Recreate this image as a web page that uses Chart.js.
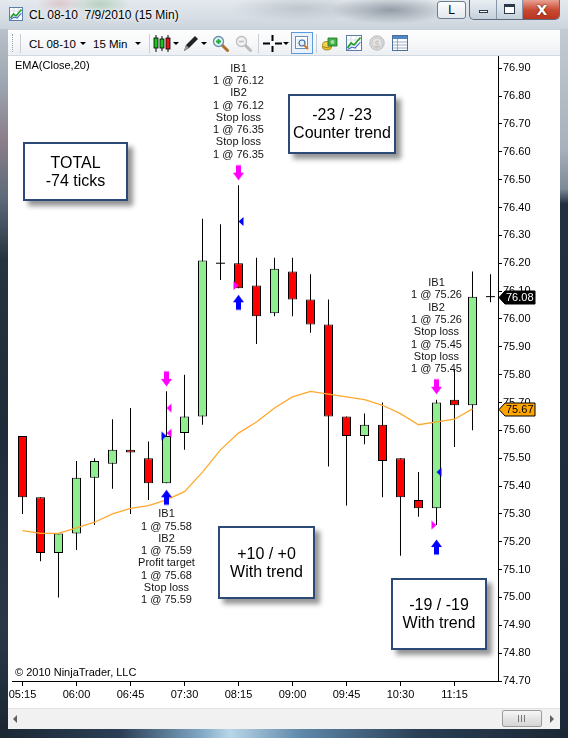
<!DOCTYPE html>
<html>
<head>
<meta charset="utf-8">
<title>CL 08-10 7/9/2010 (15 Min)</title>
<script src="https://cdn.jsdelivr.net/npm/chart.js@4.4.1/dist/chart.umd.min.js"></script>
<style>
*{box-sizing:border-box;}
html,body{margin:0;padding:0;}
body{width:568px;height:738px;overflow:hidden;position:relative;background:#1d2a38;font-family:'Liberation Sans',Arial,sans-serif;color:#000;}
.a{position:absolute;}
#title{left:0;top:0;width:568px;height:29px;background:
 radial-gradient(ellipse 30px 12px at 100px 4px, rgba(110,170,110,.35), transparent),
 radial-gradient(ellipse 24px 10px at 60px 3px, rgba(200,110,110,.25), transparent),
 radial-gradient(ellipse 70px 14px at 300px 8px, rgba(120,130,140,.30), transparent),
 radial-gradient(ellipse 60px 14px at 390px 10px, rgba(60,70,85,.45), transparent),
 linear-gradient(180deg,#e4e9ee 0%,#d6dde4 60%,#cbd3dc 100%);}
#ttext{left:29px;top:7px;font-size:12px;line-height:16px;white-space:pre;text-shadow:0 0 6px #fff,0 0 3px #fff;}
#leftb{left:0;top:29px;width:8px;height:700px;background:linear-gradient(180deg,#b9c1ca 0px,#9aa3ad 60px,#8c7f8a 110px,#5d6977 170px,#27333f 230px,#1f2b38 400px,#2a3846 600px,#1c2733 700px);}
#rightb{left:560px;top:29px;width:8px;height:700px;background:linear-gradient(180deg,#c3cad2 0px,#a7b1bb 120px,#7d8996 160px,#22303e 175px,#1d2a38 700px);}
#bottomb{left:0;top:729px;width:568px;height:9px;background:linear-gradient(90deg,#1b2733 0,#2b3f55 120px,#7fa6c4 200px,#b9d6e8 230px,#5f88aa 300px,#2a3e54 420px,#1b2733 568px);}
#toolbar{left:8px;top:29px;width:552px;height:27px;background:linear-gradient(180deg,#fefefe 0%,#f7f8fa 50%,#eceff3 100%);border-bottom:1px solid #d3d9e0;border-top:1px solid #c7cfd8;}
.tt{font-size:11.5px;line-height:14px;top:7px;white-space:nowrap;}
.sep{top:4px;width:1px;height:19px;background:#c9ced5;}
.dd{top:12px;width:0;height:0;border-left:3px solid transparent;border-right:3px solid transparent;border-top:3px solid #000;}
#chartWrap{left:8px;top:56px;width:552px;height:652px;background:#fff;}
#scroll{left:8px;top:708px;width:552px;height:21px;background:#f1f1f1;border-top:1px solid #e2e2e2;}
.box{position:absolute;background:#fff;border:2px solid #2c4a78;box-shadow:5px 5px 5px rgba(0,0,0,.42);display:flex;flex-direction:column;align-items:center;justify-content:center;font-size:16px;line-height:18px;text-align:center;white-space:nowrap;}
.lbl{position:absolute;font-size:11px;line-height:13px;white-space:nowrap;color:#000;}
</style>
</head>
<body>
<div class="a" id="title">
  <svg class="a" style="left:9px;top:7px" width="14" height="14" viewBox="0 0 14 14">
    <rect x="0.5" y="0.5" width="13" height="13" fill="#fff" stroke="#5b7fa8"/>
    <path d="M1 4h12M1 8h12M5 1v12M9 1v12" stroke="#cfd9e6" stroke-width="0.8"/>
    <polyline points="1.5,11 4.5,7 7,9 12.5,2.5" fill="none" stroke="#1e9e2a" stroke-width="1.6"/>
    <polyline points="1.5,12.5 5,10 8,11 12.5,6" fill="none" stroke="#3b62d6" stroke-width="1.1"/>
  </svg>
  <div class="a" id="ttext">CL 08-10  7/9/2010 (15 Min)</div>
  <div class="a" style="left:437px;top:1px;width:29px;height:18px;border:1px solid #6d7d8f;border-radius:3px;background:linear-gradient(#fcfdfe,#e3e8ee);font-size:12px;line-height:16px;text-align:center;">L</div>
  <div class="a" style="left:469px;top:0px;width:91px;height:20px;border:1px solid #5d6d80;border-top:none;border-radius:0 0 5px 5px;overflow:hidden;background:linear-gradient(#e9eef3,#c5d0db);">
    <div class="a" style="left:26px;top:0;width:1px;height:20px;background:#8596a8"></div>
    <div class="a" style="left:52px;top:0;width:1px;height:20px;background:#8596a8"></div>
    <div class="a" style="left:9px;top:10px;width:9px;height:3px;border:1px solid #2b3a4a;background:#fff"></div>
    <div class="a" style="left:34px;top:4px;width:11px;height:10px;border:1px solid #2b3a4a;background:#fff;box-shadow:inset 0 2px 0 #2b3a4a"></div>
    <div class="a" style="left:53px;top:0;width:38px;height:20px;background:linear-gradient(#e9a192,#c94a33 50%,#b8321c);"></div>
    <div class="a" style="left:53px;top:1px;width:38px;height:18px;color:#fff;font:bold 14px 'DejaVu Sans',sans-serif;text-align:center;line-height:18px;text-shadow:0 0 2px #400;">X</div>
  </div>
</div>
<div class="a" id="leftb"></div>
<div class="a" id="rightb"></div>
<div class="a" id="bottomb"></div>

<div class="a" id="toolbar">
  <div class="a" style="left:4px;top:4px;width:1px;height:18px;border-left:1px dotted #9aa2ad"></div>
  <div class="a sep" style="left:12px"></div>
  <div class="a tt" style="left:21px">CL 08-10</div>
  <div class="a dd" style="left:72px"></div>
  <div class="a tt" style="left:85px">15 Min</div>
  <div class="a dd" style="left:127px"></div>
  <div class="a sep" style="left:141px"></div>
  <svg class="a" style="left:145px;top:4px" width="18" height="19" viewBox="0 0 18 19">
    <path d="M3 1v17M9 2v15M15 1v17" stroke="#000" stroke-width="1"/>
    <rect x="1" y="4" width="4" height="10" fill="#19c41f" stroke="#000" stroke-width="0.8"/>
    <rect x="7" y="5" width="4" height="9" fill="#19c41f" stroke="#000" stroke-width="0.8"/>
    <rect x="13" y="4" width="4" height="11" fill="#e0161b" stroke="#000" stroke-width="0.8"/>
  </svg>
  <div class="a dd" style="left:165px"></div>
  <svg class="a" style="left:173px;top:4px" width="18" height="19" viewBox="0 0 18 19">
    <path d="M3 17 L5 11 L14 2 L17 5 L8 14 Z" fill="#222"/>
    <path d="M3 17 L5 11 L8 14 Z" fill="#999"/>
  </svg>
  <div class="a dd" style="left:193px"></div>
  <svg class="a" style="left:204px;top:5px" width="17" height="17" viewBox="0 0 17 17">
    <path d="M10 10 L15.5 15.5" stroke="#b0702a" stroke-width="3" stroke-linecap="round"/>
    <circle cx="6.5" cy="6.5" r="5" fill="#e2f1fb" stroke="#6a8eaa" stroke-width="1.3"/>
    <path d="M4 6.5h5M6.5 4v5" stroke="#1ea82c" stroke-width="1.8"/>
  </svg>
  <svg class="a" style="left:227px;top:5px" width="17" height="17" viewBox="0 0 17 17">
    <path d="M10 10 L15.5 15.5" stroke="#b9b9b9" stroke-width="3" stroke-linecap="round"/>
    <circle cx="6.5" cy="6.5" r="5" fill="#f3f3f3" stroke="#bdbdbd" stroke-width="1.3"/>
    <path d="M4 6.5h5" stroke="#c4c4c4" stroke-width="1.8"/>
  </svg>
  <div class="a sep" style="left:250px"></div>
  <svg class="a" style="left:255px;top:5px" width="19" height="17" viewBox="0 0 19 17">
    <path d="M0 8.5h7M12 8.5h7M9.5 0v6M9.5 11v6" stroke="#000" stroke-width="2"/>
  </svg>
  <div class="a dd" style="left:275px"></div>
  <div class="a" style="left:283px;top:2px;width:22px;height:22px;border:1px solid #5a9be0;background:#eaf3fd;">
    <svg class="a" style="left:2px;top:2px" width="16" height="16" viewBox="0 0 16 16">
      <rect x="1.5" y="1.5" width="12" height="12" fill="#fff" stroke="#6c8fb4"/>
      <path d="M3 5h9M3 8h9M3 11h9" stroke="#c9d6e5"/>
      <circle cx="8" cy="8" r="3" fill="#dff0ff" stroke="#3f6f9f" stroke-width="1.2"/>
      <path d="M10 10l4 4" stroke="#c77d2a" stroke-width="2"/>
    </svg>
  </div>
  <div class="a sep" style="left:308px"></div>
  <svg class="a" style="left:314px;top:5px" width="16" height="17" viewBox="0 0 16 17">
    <ellipse cx="5" cy="12" rx="4.5" ry="3" fill="#e7c02b" stroke="#9c7a10" stroke-width="0.8"/>
    <ellipse cx="5" cy="9.5" rx="4.5" ry="3" fill="#f3d34a" stroke="#9c7a10" stroke-width="0.8"/>
    <path d="M6 3 h9 v8 h-9 z" fill="#44b04a" stroke="#1d6e25" stroke-width="0.8"/>
    <circle cx="10.5" cy="7" r="2" fill="#a6e0a0"/>
  </svg>
  <svg class="a" style="left:338px;top:5px" width="16" height="16" viewBox="0 0 16 16">
    <rect x="0.5" y="0.5" width="15" height="15" fill="#fff" stroke="#5b7fa8"/>
    <path d="M1 5h14M1 10h14M5 1v14M10 1v14" stroke="#cfd9e6" stroke-width="0.8"/>
    <polyline points="1.5,13 5,8 8,10 14.5,2.5" fill="none" stroke="#1e9e2a" stroke-width="1.7"/>
    <polyline points="1.5,14.5 6,12 9,13 14.5,7" fill="none" stroke="#3b62d6" stroke-width="1.1"/>
  </svg>
  <svg class="a" style="left:361px;top:5px" width="16" height="16" viewBox="0 0 16 16">
    <circle cx="8" cy="8" r="7.2" fill="#d9d9d9" stroke="#bdbdbd"/>
    <circle cx="8" cy="8" r="5" fill="#e6e6e6" stroke="#c8c8c8"/>
    <text x="8" y="11.5" font-size="9" text-anchor="middle" fill="#bdbdbd" font-family="Liberation Sans">$</text>
  </svg>
  <svg class="a" style="left:384px;top:5px" width="16" height="16" viewBox="0 0 16 16">
    <rect x="0.5" y="0.5" width="15" height="15" fill="#fff" stroke="#4d6f9a"/>
    <rect x="1" y="1" width="14" height="3" fill="#4f86c6"/>
    <path d="M1 7h14M1 10h14M1 13h14M5.5 4v11" stroke="#7d97b8" stroke-width="0.8"/>
  </svg>
</div>

<div class="a" id="chartWrap"><canvas id="c"></canvas></div>

<div class="lbl" style="left:15px;top:59px;">EMA(Close,20)</div>
<div class="lbl" style="left:15px;top:666px;">© 2010 NinjaTrader, LLC</div>

<div class="box" style="left:23px;top:142px;width:105px;height:59px;"><div>TOTAL</div><div>-74 ticks</div></div>
<div class="box" style="left:288px;top:94px;width:108px;height:60px;"><div>-23 / -23</div><div>Counter trend</div></div>
<div class="box" style="left:218px;top:526px;width:97px;height:73px;"><div>+10 / +0</div><div>With trend</div></div>
<div class="box" style="left:391px;top:578px;width:96px;height:72px;"><div>-19 / -19</div><div>With trend</div></div>

<div class="a" id="scroll">
  <div class="a" style="left:5px;top:6px;width:0;height:0;border-top:4px solid transparent;border-bottom:4px solid transparent;border-right:4px solid #606060;"></div>
  <div class="a" style="left:494px;top:1px;width:40px;height:17px;border:1px solid #9c9c9c;border-radius:2px;background:linear-gradient(#f7f7f7,#e4e4e4 50%,#d6d6d6);">
    <div class="a" style="left:15px;top:4px;width:1px;height:7px;background:#777"></div>
    <div class="a" style="left:18px;top:4px;width:1px;height:7px;background:#777"></div>
    <div class="a" style="left:21px;top:4px;width:1px;height:7px;background:#777"></div>
  </div>
  <div class="a" style="left:542px;top:6px;width:0;height:0;border-top:4px solid transparent;border-bottom:4px solid transparent;border-left:4px solid #606060;"></div>
</div>

<script>
// ---------------- data ----------------
const timeLabels = ['05:15','06:00','06:45','07:30','08:15','09:00','09:45','10:30','11:15'];
const barsPerTimeLabel = 3;
const priceTicks = [74.70,74.80,74.90,75.00,75.10,75.20,75.30,75.40,75.50,75.60,75.70,75.80,75.90,76.00,76.10,76.20,76.30,76.40,76.50,76.60,76.70,76.80,76.90];

const opens  = [75.58,75.36,75.16,75.23,75.43,75.48,75.53,75.50,75.41,75.59,75.65,76.20,76.20,76.12,76.02,76.17,76.07,75.98,75.65,75.58,75.62,75.50,75.35,75.32,75.71,75.69,76.08];
const highs  = [75.58,75.36,75.23,75.49,75.50,75.64,75.68,75.56,75.74,75.80,76.36,76.34,76.48,76.22,76.22,76.22,76.16,76.07,75.65,75.66,75.70,75.50,75.45,75.71,75.82,76.17,76.16];
const lows   = [75.30,75.13,75.00,75.17,75.26,75.39,75.30,75.35,75.41,75.53,75.62,76.14,76.11,75.91,76.01,76.01,75.95,75.47,75.33,75.55,75.36,75.15,75.29,75.26,75.54,75.60,76.06];
const closes = [75.36,75.16,75.23,75.43,75.49,75.53,75.52,75.41,75.58,75.65,76.21,76.20,76.11,76.01,76.18,76.07,75.98,75.65,75.58,75.62,75.49,75.36,75.32,75.70,75.69,76.08,76.08];
const ema20  = [75.24,75.23,75.23,75.25,75.27,75.30,75.32,75.33,75.35,75.38,75.45,75.53,75.59,75.63,75.68,75.72,75.74,75.73,75.72,75.71,75.69,75.66,75.62,75.63,75.64,75.677,null];

const signalBars  = [8, 12, 23];
const signalDirs  = ['long', 'short', 'short'];
const entryPrices = [75.58, 76.12, 75.26];
const exitBars    = [8, 8, 12, 23];
const exitDirs    = ['long', 'long', 'short', 'short'];
const exitPrices  = [75.68, 75.59, 76.35, 75.45];
const signalLabels = [
  ['IB1','1 @ 75.58','IB2','1 @ 75.59','Profit target','1 @ 75.68','Stop loss','1 @ 75.59'],
  ['IB1','1 @ 76.12','IB2','1 @ 76.12','Stop loss','1 @ 76.35','Stop loss','1 @ 76.35'],
  ['IB1','1 @ 75.26','IB2','1 @ 75.26','Stop loss','1 @ 75.45','Stop loss','1 @ 75.45']
];

// ---------------- styles ----------------
const UP = '#90EE90', DOWN = '#FF0000', BLUE = '#0000FF', MAGENTA = '#FF00FF', EMA_COLOR = '#FFA82E';
const FONT = "'Liberation Sans', Arial, sans-serif";
Chart.defaults.font.family = FONT;
Chart.defaults.font.size = 11;
Chart.defaults.color = '#000';

function arrowImg(color, up, offset) {
  const h = 2 * (Math.abs(offset) + 9);
  const c = document.createElement('canvas');
  c.width = 11; c.height = h;
  const g = c.getContext('2d');
  const cy = h / 2 + offset;
  g.fillStyle = color;
  g.beginPath();
  if (!up) {
    g.moveTo(3, cy - 7.5); g.lineTo(8, cy - 7.5); g.lineTo(8, cy); g.lineTo(11, cy);
    g.lineTo(5.5, cy + 7.5); g.lineTo(0, cy); g.lineTo(3, cy);
  } else {
    g.moveTo(3, cy + 7.5); g.lineTo(8, cy + 7.5); g.lineTo(8, cy); g.lineTo(11, cy);
    g.lineTo(5.5, cy - 7.5); g.lineTo(0, cy); g.lineTo(3, cy);
  }
  g.closePath(); g.fill();
  return c;
}
function triImg(color, pointLeft) {
  const c = document.createElement('canvas');
  c.width = 11; c.height = 11;
  const g = c.getContext('2d');
  g.fillStyle = color;
  g.beginPath();
  if (pointLeft) { g.moveTo(5.5, 5.5); g.lineTo(10.5, 1); g.lineTo(10.5, 10); }
  else { g.moveTo(5.5, 5.5); g.lineTo(0.5, 1); g.lineTo(0.5, 10); }
  g.closePath(); g.fill();
  return c;
}

const idx = opens.map((_, i) => i);
const downArrowOffsets = [-12.5, -12.5, -13];
const upArrowOffsets = [14, 14, 22];

const signalTextPlugin = {
  id: 'signalText',
  afterDatasetsDraw(chart) {
    const { ctx, scales: { x, y } } = chart;
    ctx.save();
    ctx.font = '11px ' + FONT;
    ctx.fillStyle = '#141414';
    ctx.textAlign = 'center';
    ctx.textBaseline = 'middle';
    signalBars.forEach((b, k) => {
      const px = x.getPixelForValue(b);
      const lines = signalLabels[k];
      if (signalDirs[k] === 'long') {
        const py = y.getPixelForValue(lows[b]) + 31;
        lines.forEach((t, j) => ctx.fillText(t, px, py + j * 12.3));
      } else {
        const py = y.getPixelForValue(highs[b]) - 30.5;
        lines.forEach((t, j) => ctx.fillText(t, px, py - (lines.length - 1 - j) * 12.3));
      }
    });
    ctx.restore();
  }
};

function drawFlag(ctx, x0, yc, fill, stroke, color, text) {
  const h = 13, tip = 6, w = 36;
  yc = Math.round(yc) + 0.5;
  ctx.beginPath();
  ctx.moveTo(x0, yc);
  ctx.lineTo(x0 + tip, yc - h / 2);
  ctx.lineTo(x0 + w, yc - h / 2);
  ctx.lineTo(x0 + w, yc + h / 2);
  ctx.lineTo(x0 + tip, yc + h / 2);
  ctx.closePath();
  ctx.fillStyle = fill; ctx.fill();
  ctx.strokeStyle = stroke; ctx.lineWidth = 1; ctx.stroke();
  ctx.fillStyle = color;
  ctx.font = '11px ' + FONT;
  ctx.textAlign = 'left';
  ctx.textBaseline = 'middle';
  ctx.fillText(text, x0 + tip + 1, yc + 0.5);
}
const flagPlugin = {
  id: 'priceFlags',
  afterDraw(chart) {
    const { ctx, chartArea, scales: { y } } = chart;
    const last = closes.length - 1;
    let lastEma = ema20.length - 1;
    while (ema20[lastEma] == null) lastEma--;
    ctx.save();
    drawFlag(ctx, chartArea.right + 1, y.getPixelForValue(ema20[lastEma]), '#FFA500', '#000', '#000', (Math.floor(ema20[lastEma] * 100) / 100).toFixed(2));
    drawFlag(ctx, chartArea.right + 1, y.getPixelForValue(closes[last]), '#000', '#000', '#fff', closes[last].toFixed(2));
    ctx.restore();
  }
};

function fixAxis(s, prop, size) {
  s[prop] = size;
  s.paddingTop = 0; s.paddingBottom = 0; s.paddingLeft = 0; s.paddingRight = 0;
}

new Chart(document.getElementById('c'), {
  type: 'bar',
  data: {
    datasets: [
      {
        type: 'scatter', label: 'exits', order: 0,
        data: exitBars.map((b, k) => ({ x: b, y: exitPrices[k] })),
        pointStyle: exitDirs.map(d => triImg(d === 'long' ? MAGENTA : BLUE, true)),
        pointRadius: 5, showLine: false
      },
      {
        type: 'scatter', label: 'entries', order: 0,
        data: signalBars.map((b, k) => ({ x: b, y: entryPrices[k] })),
        pointStyle: signalDirs.map(d => triImg(d === 'long' ? BLUE : MAGENTA, false)),
        pointRadius: 5, showLine: false
      },
      {
        type: 'scatter', label: 'signal down', order: 0,
        data: signalBars.map(b => ({ x: b, y: highs[b] })),
        pointStyle: downArrowOffsets.map(o => arrowImg(MAGENTA, false, o)),
        pointRadius: 5, showLine: false
      },
      {
        type: 'scatter', label: 'signal up', order: 0,
        data: signalBars.map(b => ({ x: b, y: lows[b] })),
        pointStyle: upArrowOffsets.map(o => arrowImg(BLUE, true, o)),
        pointRadius: 5, showLine: false
      },
      {
        type: 'scatter', label: 'doji', order: 1,
        data: idx.filter(i => opens[i] === closes[i]).map(i => ({ x: i, y: closes[i] })),
        pointStyle: 'line', pointRadius: 4.5, borderColor: '#000', borderWidth: 1, showLine: false
      },
      {
        type: 'line', label: 'EMA(Close,20)', order: 2,
        data: idx.map(i => ({ x: i, y: ema20[i] })),
        borderColor: EMA_COLOR, borderWidth: 1.3, pointRadius: 0, tension: 0, spanGaps: false, fill: false
      },
      {
        type: 'bar', label: 'body', order: 3,
        data: idx.map(i => ({ x: i, y: [opens[i], closes[i]] })),
        backgroundColor: idx.map(i => closes[i] >= opens[i] ? UP : DOWN),
        borderColor: '#000', borderWidth: 1, borderSkipped: false,
        barThickness: 9, grouped: false, inflateAmount: 0
      },
      {
        type: 'bar', label: 'wick', order: 4,
        data: idx.map(i => ({ x: i, y: [lows[i], highs[i]] })),
        backgroundColor: '#000', borderWidth: 0,
        barThickness: 1, grouped: false, inflateAmount: 0
      }
    ]
  },
  options: {
    responsive: true,
    maintainAspectRatio: false,
    animation: false,
    events: [],
    layout: { autoPadding: false, padding: { left: 4, top: 0, right: 0, bottom: 0 } },
    plugins: { legend: { display: false }, tooltip: { enabled: false } },
    scales: {
      x: {
        type: 'linear', offset: false,
        min: -0.583, max: 26.417,
        afterBuildTicks: s => { s.ticks = timeLabels.map((_, k) => ({ value: k * barsPerTimeLabel })); },
        afterFit: s => fixAxis(s, 'height', 27),
        ticks: { callback: (v, i) => timeLabels[i], autoSkip: false, maxRotation: 0, padding: 2, color: '#000', font: { size: 11 } },
        grid: { drawOnChartArea: false, drawTicks: true, tickLength: 5, tickColor: '#000', offset: false },
        border: { display: true, color: '#000', width: 1 }
      },
      y: {
        type: 'linear', position: 'right',
        min: 74.70, max: 76.944,
        afterBuildTicks: s => { s.ticks = priceTicks.map(v => ({ value: v })); },
        afterFit: s => fixAxis(s, 'width', 62),
        ticks: { callback: v => v.toFixed(2), autoSkip: false, padding: 1, color: '#000', font: { size: 11 } },
        grid: { drawOnChartArea: false, drawTicks: true, tickLength: 4, tickColor: '#000' },
        border: { display: true, color: '#000', width: 1 }
      }
    }
  },
  plugins: [signalTextPlugin, flagPlugin]
});
</script>
</body>
</html>
